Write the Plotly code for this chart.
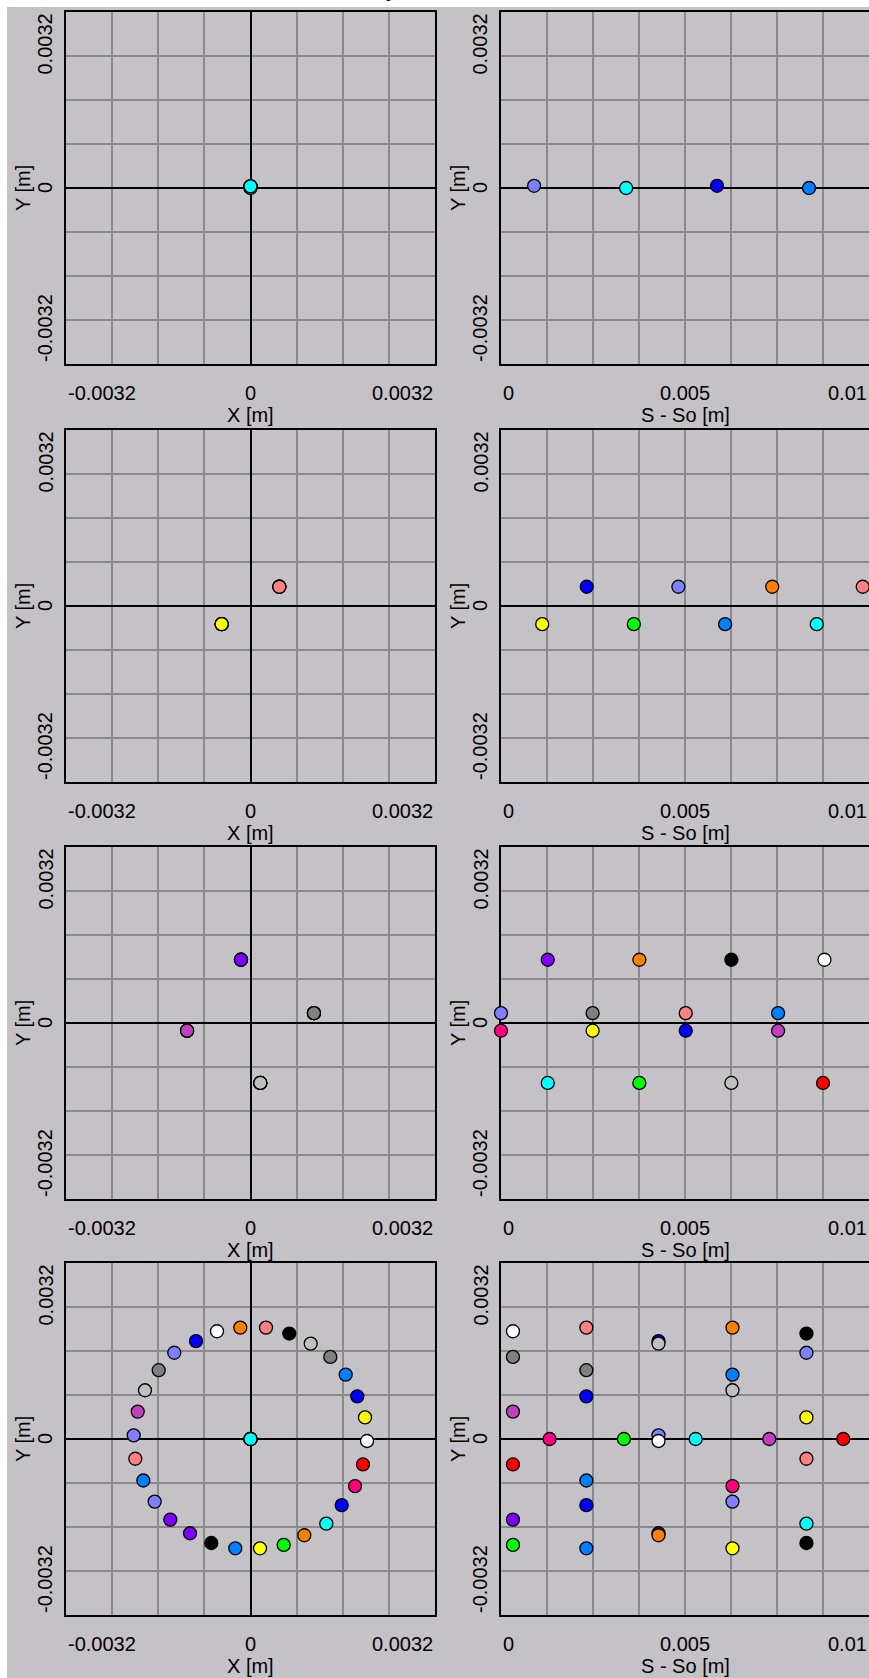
import plotly.graph_objects as go

W, H = 869, 1678
BG = '#C4C2C6'
GRID = '#8A8A8A'

COL = dict(cyan='#00FFFF', lav='#8080FF', blue='#0000FF', azure='#0080FF', salmon='#FF8080',
           yellow='#FFFF00', green='#00FF00', orange='#FF8000', purple='#8000FF', grey='#808080',
           orchid='#C040C0', dpink='#FF0080', red='#FF0000', black='#000000', white='#FFFFFF',
           silver='#C0C0C0')

# ---------------- data (draw order: last drawn on top) ----------------
# Row 1
r1_x = [0, 0, 0, 0]
r1_y = [0.00003, 0.00003, 0.0, 0.00003]
r1_c = ['lav', 'blue', 'azure', 'cyan']
r1s_s = [0.0009, 0.0034, 0.00587, 0.00837]
r1s_y = [0.00004, 0.0, 0.00004, 0.0]
r1s_c = ['lav', 'cyan', 'blue', 'azure']

# Row 2
r2_x = [0.0005, 0.0005, 0.0005, 0.0005, -0.0005, -0.0005, -0.0005, -0.0005]
r2_y = [0.00035, 0.00035, 0.00035, 0.00035, -0.00033, -0.00033, -0.00033, -0.00033]
r2_c = ['blue', 'lav', 'orange', 'salmon', 'green', 'azure', 'cyan', 'yellow']
r2s_s = [0.00233, 0.00482, 0.00737, 0.00983, 0.00112, 0.00361, 0.00609, 0.00858]
r2s_y = [0.00035, 0.00035, 0.00035, 0.00035, -0.00033, -0.00033, -0.00033, -0.00033]
r2s_c = ['blue', 'lav', 'orange', 'salmon', 'yellow', 'green', 'azure', 'cyan']

# Row 3
r3_x = [-0.000165] * 4 + [0.0011] * 4 + [-0.0011] * 4 + [0.00017] * 4
r3_y = [0.00115] * 4 + [0.00018] * 4 + [-0.00014] * 4 + [-0.00109] * 4
r3_c = ['orange', 'black', 'white', 'purple',
        'lav', 'salmon', 'azure', 'grey',
        'dpink', 'yellow', 'blue', 'orchid',
        'cyan', 'green', 'red', 'silver']
r3s_s = [0.00127, 0.00376, 0.00626, 0.00879,
         0.0, 0.00249, 0.00502, 0.00753,
         0.0, 0.00249, 0.00502, 0.00753,
         0.00127, 0.00376, 0.00626, 0.00875]
r3s_y = [0.00115] * 4 + [0.00018] * 4 + [-0.00014] * 4 + [-0.00109] * 4
r3s_c = ['purple', 'orange', 'black', 'white',
         'lav', 'grey', 'salmon', 'azure',
         'dpink', 'yellow', 'blue', 'orchid',
         'cyan', 'green', 'silver', 'red']

# Row 4 (ring of 30 particles + 5 on axis)
r4_x = [-0.000945, -0.001322, -0.001592, -0.00183, -0.001956, -0.002026, -0.001998, -0.001859,
        -0.001662, -0.001391, -0.001049, -0.00068, -0.000264, 0.000165, 0.000576, 0.000933,
        0.001315, 0.001582, 0.001813, 0.001951, 0.002021, 0.001986, 0.001852, 0.001651,
        0.001384, 0.001044, 0.000673, 0.000269, -0.000177, -0.000581,
        0, 0, 0, 0, 0]
r4_y = [0.00178, 0.001568, 0.001251, 0.000886, 0.000498, 0.000066, -0.000359, -0.000755,
        -0.001138, -0.001466, -0.001714, -0.001891, -0.001987, -0.001987, -0.001926, -0.00175,
        -0.001538, -0.001203, -0.000856, -0.000463, -0.000036, 0.000393, 0.000776, 0.001171,
        0.001493, 0.001735, 0.001917, 0.002026, 0.002026, 0.001959,
        0, 0, 0, 0, 0]
r4_c = ['blue', 'lav', 'grey', 'silver', 'orchid', 'lav', 'salmon', 'azure',
        'lav', 'purple', 'purple', 'black', 'azure', 'yellow', 'green', 'orange',
        'cyan', 'blue', 'dpink', 'red', 'white', 'yellow', 'blue', 'azure',
        'grey', 'silver', 'black', 'salmon', 'orange', 'white',
        'red', 'orchid', 'green', 'dpink', 'cyan']
r4s_s = [0.00428, 0.0083, 0.00232, 0.00629, 0.000325, 0.00428, 0.0083, 0.00232,
         0.00629, 0.000325, 0.00428, 0.0083, 0.00232, 0.00629, 0.000325, 0.00428,
         0.0083, 0.00232, 0.00629, 0.000325, 0.00428, 0.0083, 0.00232, 0.00629,
         0.000325, 0.00428, 0.0083, 0.00232, 0.00629, 0.000325,
         0.0093, 0.00729, 0.00334, 0.00132, 0.00529]
r4s_y = r4_y
r4s_c = r4_c

xy_x = [r1_x, r2_x, r3_x, r4_x]
xy_y = [r1_y, r2_y, r3_y, r4_y]
xy_c = [r1_c, r2_c, r3_c, r4_c]
s_s = [r1s_s, r2s_s, r3s_s, r4s_s]
s_y = [r1s_y, r2s_y, r3s_y, r4s_y]
s_c = [r1s_c, r2s_c, r3s_c, r4s_c]

# axes / ticks
XY_RANGE = [-0.0032, 0.0032]
S_RANGE = [0.0, 0.01]
xy_ticks = [-0.0032, 0, 0.0032]
xy_ticklabels = ['-0.0032', '0', '0.0032']
s_ticks = [0.0, 0.005, 0.01]
s_ticklabels = ['0', '0.005', '0.01']
y_ticks = [0.0032, 0, -0.0032]
y_ticklabels = ['0.0032', '0', '-0.0032']
x_titles = ['X [m]', 'S - So [m]']
y_title = 'Y [m]'

# ---------------- layout geometry (pixels) ----------------
row_tops = [12, 430, 847, 1263]
plot_h = 352
col_lr = [(66, 435), (501, 869)]

FONT = dict(family='Liberation Sans, Arial, sans-serif', size=20, color='black')

fig = go.Figure()
layout = dict(width=W, height=H, margin=dict(l=0, r=0, t=0, b=0),
              paper_bgcolor='white', plot_bgcolor=BG, showlegend=False,
              font=FONT, annotations=[], shapes=[])

layout['shapes'].append(dict(type='rect', xref='paper', yref='paper', x0=7 / W, x1=1, y0=0,
                             y1=1 - 7 / H, fillcolor=BG, line=dict(width=0), layer='below'))

n = 0
for r in range(4):
    top = row_tops[r]
    bot = top + plot_h
    ydom = [1 - bot / H, 1 - top / H]
    for c in range(2):
        n += 1
        left, right = col_lr[c]
        xdom = [left / W, right / W]
        xa = 'xaxis' if n == 1 else f'xaxis{n}'
        ya = 'yaxis' if n == 1 else f'yaxis{n}'
        xr = 'x' if n == 1 else f'x{n}'
        yr = 'y' if n == 1 else f'y{n}'
        if c == 0:
            xs, ys, cs = xy_x[r], xy_y[r], xy_c[r]
            rng, dt = XY_RANGE, 0.0008
            ticks, labels = xy_ticks, xy_ticklabels
        else:
            xs, ys, cs = s_s[r], s_y[r], s_c[r]
            rng, dt = S_RANGE, 0.00125
            ticks, labels = s_ticks, s_ticklabels
        layout[xa] = dict(domain=xdom, range=rng, anchor=yr, showgrid=True, gridcolor=GRID,
                          gridwidth=1.5, tick0=0, dtick=dt, showticklabels=False, ticks='',
                          zeroline=(c == 0), zerolinecolor='black', zerolinewidth=1.5,
                          showline=True, linecolor='black', linewidth=2, mirror=True,
                          layer='below traces', fixedrange=True)
        layout[ya] = dict(domain=ydom, range=[-0.0032, 0.0032], anchor=xr, showgrid=True,
                          gridcolor=GRID, gridwidth=1.5, tick0=0, dtick=0.0008,
                          showticklabels=False, ticks='', zeroline=True, zerolinecolor='black',
                          zerolinewidth=1.5, showline=True, linecolor='black', linewidth=2,
                          mirror=(c == 0), layer='below traces', fixedrange=True)
        if c == 1:
            layout['shapes'].append(dict(type='line', xref=xr, yref=f'{yr} domain', x0=0.005,
                                         x1=0.005, y0=0, y1=1,
                                         line=dict(color='black', width=1.5), layer='below'))
        fig.add_trace(go.Scatter(x=xs, y=ys, mode='markers', xaxis=xr, yaxis=yr,
                                 cliponaxis=False, hoverinfo='skip',
                                 marker=dict(size=13, color=[COL[k] for k in cs],
                                             line=dict(color='black', width=1.3))))
        # x tick labels
        anchors = ['left', 'center', 'right']
        for t, lab, an in zip(ticks, labels, anchors):
            layout['annotations'].append(dict(text=lab, xref=xr, yref=f'{yr} domain', x=t, y=0,
                                              yshift=-29, xanchor=an, yanchor='middle',
                                              showarrow=False, font=FONT))
        layout['annotations'].append(dict(text=x_titles[c], xref=xr, yref=f'{yr} domain',
                                          x=(rng[0] + rng[1]) / 2, y=0, yshift=-51,
                                          xanchor='center', yanchor='middle', showarrow=False,
                                          font=FONT))
        # y tick labels
        for t, lab, an in zip(y_ticks, y_ticklabels, ['top', 'middle', 'bottom']):
            layout['annotations'].append(dict(text=lab, xref=f'{xr} domain', yref=yr, x=0, y=t,
                                              xshift=-21, xanchor='center', yanchor=an,
                                              textangle=-90, showarrow=False, font=FONT))
        layout['annotations'].append(dict(text=y_title, xref=f'{xr} domain', yref=yr, x=0, y=0,
                                          xshift=-43, xanchor='center', yanchor='middle',
                                          textangle=-90, showarrow=False, font=FONT))

# top title, only its descender is inside the page
layout['annotations'].append(dict(text='y', xref='paper', yref='paper', x=392 / W, y=1,
                                  yshift=-4, xanchor='center', yanchor='bottom',
                                  showarrow=False,
                                  font=dict(family='Liberation Serif, serif', size=26,
                                            color='black')))

fig.update_layout(**layout)
fig.write_html('out.html', config={'displayModeBar': False})
